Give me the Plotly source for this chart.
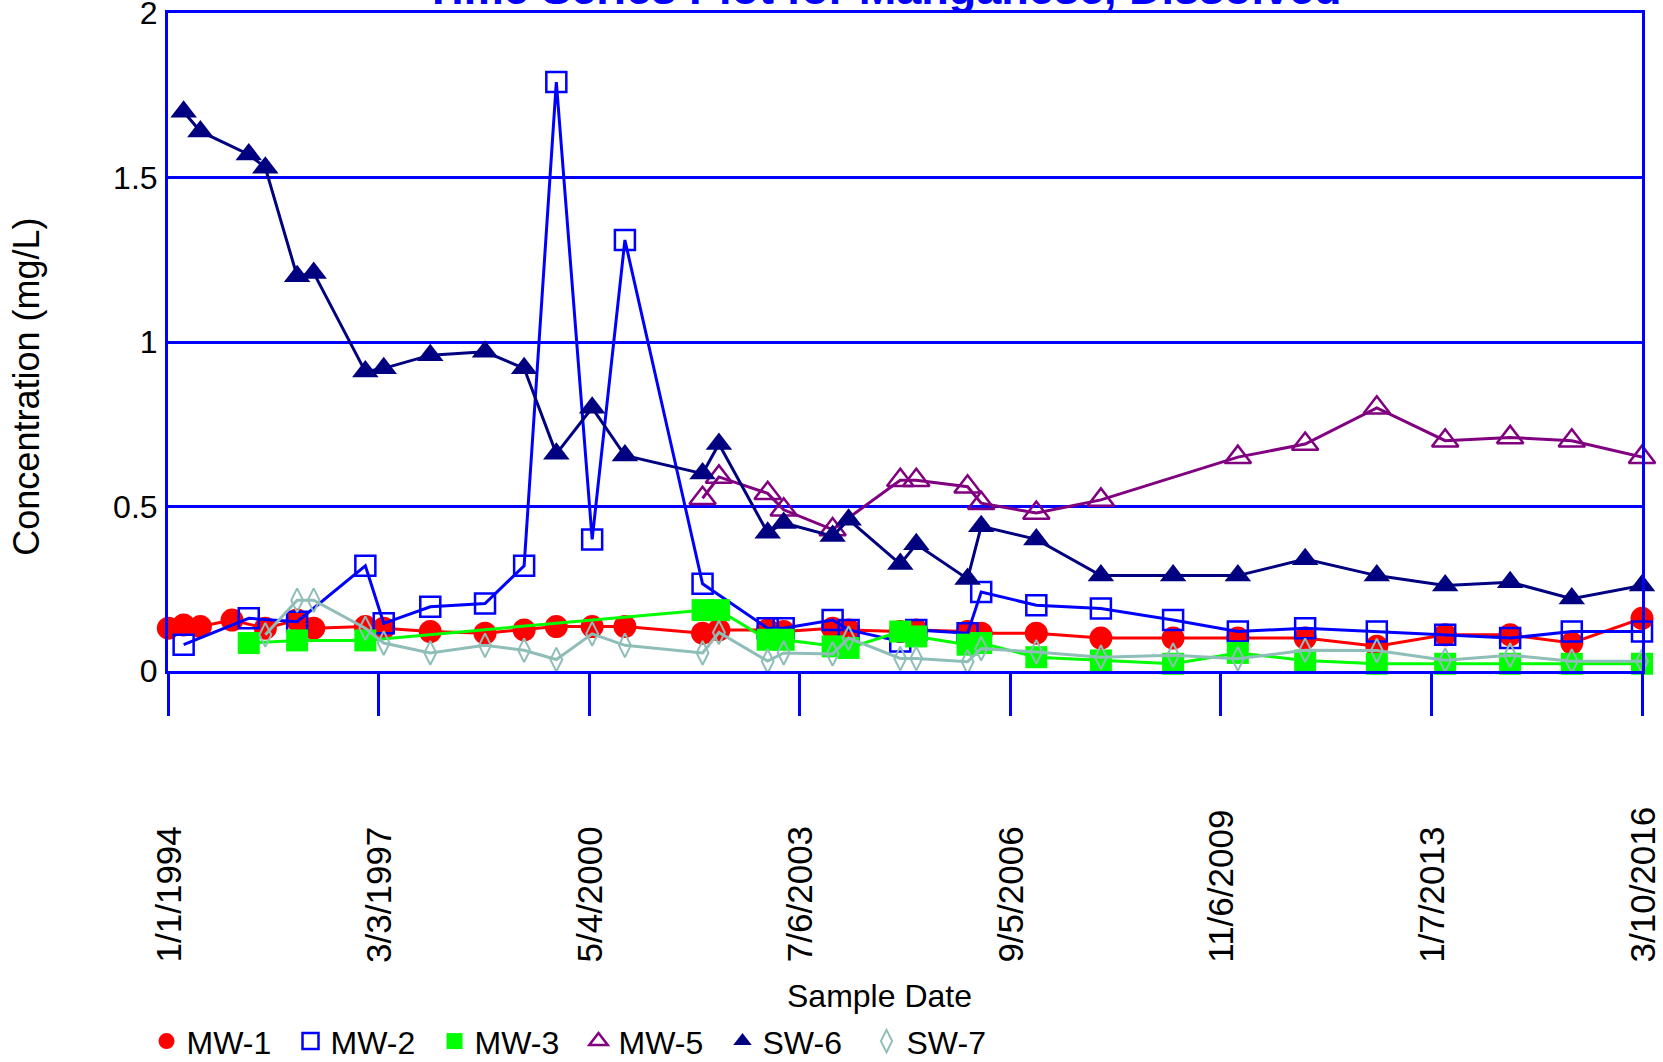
import plotly.graph_objects as go

# ---------------- data ----------------
MW1_DATES = ["1994-01-03", "1994-03-28", "1994-06-28", "1994-12-19", "1995-06-20", "1995-12-12",
             "1996-03-12", "1996-12-21", "1997-04-01", "1997-12-13", "1998-10-10", "1999-05-13",
             "1999-11-06", "2000-05-21", "2000-11-17", "2002-01-18", "2002-04-18", "2003-01-11",
             "2003-04-09", "2004-01-03", "2004-03-31", "2005-01-09", "2005-04-07", "2006-01-14",
             "2006-03-30", "2007-01-27", "2008-01-17", "2009-02-17", "2010-02-08", "2011-02-13",
             "2012-03-13", "2013-03-24", "2014-03-16", "2015-02-18", "2016-03-10"]
MW1_VALUES = [0.13, 0.14, 0.135, 0.155, 0.13, 0.155, 0.13, 0.135, 0.13, 0.12, 0.115, 0.125,
              0.135, 0.135, 0.135, 0.115, 0.125, 0.125, 0.12, 0.13, 0.125, 0.12, 0.125, 0.12,
              0.115, 0.115, 0.10, 0.10, 0.10, 0.10, 0.075, 0.11, 0.11, 0.085, 0.16]

MW2_DATES = ["1994-03-28", "1995-03-21", "1995-12-12", "1996-12-21", "1997-04-01", "1997-12-13",
             "1998-10-10", "1999-05-13", "1999-11-06", "2000-05-21", "2000-11-17", "2002-01-18",
             "2003-01-11", "2003-04-09", "2004-01-03", "2004-03-31", "2005-01-09", "2005-04-07",
             "2006-01-14", "2006-03-30", "2007-01-27", "2008-01-17", "2009-02-17", "2010-02-08",
             "2011-02-13", "2012-03-13", "2013-03-24", "2014-03-16", "2015-02-18", "2016-03-10"]
MW2_VALUES = [0.08, 0.16, 0.15, 0.32, 0.145, 0.195, 0.205, 0.32, 1.79, 0.40, 1.31, 0.265,
              0.13, 0.13, 0.155, 0.125, 0.09, 0.125, 0.115, 0.24, 0.20, 0.19, 0.155, 0.12,
              0.13, 0.12, 0.11, 0.10, 0.12, 0.12]

MW3_DATES = ["1995-03-21", "1995-12-12", "1996-12-21", "2002-01-18", "2002-04-18", "2003-01-11",
             "2003-04-09", "2004-01-03", "2004-03-31", "2005-01-09", "2005-04-07", "2006-01-14",
             "2006-03-30", "2007-01-27", "2008-01-17", "2009-02-17", "2010-02-08", "2011-02-13",
             "2012-03-13", "2013-03-24", "2014-03-16", "2015-02-18", "2016-03-10"]
MW3_VALUES = [0.085, 0.093, 0.093, 0.185, 0.185, 0.095, 0.095, 0.075, 0.07, 0.12, 0.105, 0.08,
              0.085, 0.042, 0.032, 0.022, 0.055, 0.032, 0.022, 0.022, 0.022, 0.022, 0.022]

MW5_DATES = ["2002-01-18", "2002-04-18", "2003-01-11", "2003-04-09", "2004-01-03", "2005-01-09",
             "2005-04-07", "2006-01-14", "2006-03-30", "2007-01-27", "2008-01-17", "2010-02-08",
             "2011-02-13", "2012-03-13", "2013-03-24", "2014-03-16", "2015-02-18", "2016-03-10"]
MW5_VALUES = [0.525, 0.59, 0.54, 0.49, 0.43, 0.58, 0.58, 0.56, 0.51, 0.48, 0.52, 0.65,
              0.69, 0.80, 0.70, 0.71, 0.70, 0.65]

SW6_DATES = ["1994-03-28", "1994-06-28", "1995-03-21", "1995-06-20", "1995-12-12", "1996-03-12",
             "1996-12-21", "1997-04-01", "1997-12-13", "1998-10-10", "1999-05-13", "1999-11-06",
             "2000-05-21", "2000-11-17", "2002-01-18", "2002-04-18", "2003-01-11", "2003-04-09",
             "2004-01-03", "2004-03-31", "2005-01-09", "2005-04-07", "2006-01-14", "2006-03-30",
             "2007-01-27", "2008-01-17", "2009-02-17", "2010-02-08", "2011-02-13", "2012-03-13",
             "2013-03-24", "2014-03-16", "2015-02-18", "2016-03-10"]
SW6_VALUES = [1.70, 1.64, 1.57, 1.53, 1.20, 1.21, 0.91, 0.92, 0.96, 0.97, 0.92, 0.66,
              0.80, 0.655, 0.60, 0.69, 0.42, 0.45, 0.41, 0.46, 0.325, 0.385, 0.28, 0.44,
              0.40, 0.29, 0.29, 0.29, 0.34, 0.29, 0.26, 0.27, 0.22, 0.26]

SW7_DATES = ["1995-06-20", "1995-12-12", "1996-03-12", "1996-12-21", "1997-04-01", "1997-12-13",
             "1998-10-10", "1999-05-13", "1999-11-06", "2000-05-21", "2000-11-17", "2002-01-18",
             "2002-04-18", "2003-01-11", "2003-04-09", "2004-01-03", "2004-03-31", "2005-01-09",
             "2005-04-07", "2006-01-14", "2006-03-30", "2007-01-27", "2008-01-17", "2009-02-17",
             "2010-02-08", "2011-02-13", "2012-03-13", "2013-03-24", "2014-03-16", "2015-02-18",
             "2016-03-10"]
SW7_VALUES = [0.11, 0.215, 0.215, 0.13, 0.085, 0.055, 0.078, 0.063, 0.035, 0.113, 0.078, 0.055,
              0.117, 0.03, 0.055, 0.052, 0.10, 0.038, 0.038, 0.028, 0.068, 0.058, 0.042, 0.048,
              0.037, 0.063, 0.062, 0.033, 0.048, 0.03, 0.03]

X_RANGE = ["1994-01-01", "2016-03-10"]
X_TICKS = ["1994-01-01", "1997-03-03", "2000-05-04", "2003-07-06", "2006-09-05",
           "2009-11-06", "2013-01-07", "2016-03-10"]
X_TICK_LABELS = ["1/1/1994", "3/3/1997", "5/4/2000", "7/6/2003", "9/5/2006",
                 "11/6/2009", "1/7/2013", "3/10/2016"]
Y_TICKS = [0, 0.5, 1, 1.5, 2]
Y_TICK_LABELS = ["0", "0.5", "1", "1.5", "2"]

TITLE = "Time Series Plot for Manganese, Dissolved"
X_TITLE = "Sample Date"
Y_TITLE = "Concentration (mg/L)"

# ---------------- styles ----------------
FONT = "Liberation Sans, Arial, sans-serif"
BLUE = "#0000FF"

series = [
    ("MW-1", MW1_DATES, MW1_VALUES, "#FF0000", "circle", 23, 0),
    ("MW-2", MW2_DATES, MW2_VALUES, "#0000FF", "square-open", 20, 2.5),
    ("MW-3", MW3_DATES, MW3_VALUES, "#00FF00", "square", 22, 0),
    ("MW-5", MW5_DATES, MW5_VALUES, "#800080", "triangle-up-open", 23, 2.5),
    ("SW-6", SW6_DATES, SW6_VALUES, "#000080", "triangle-up", 23, 0),
    ("SW-7", SW7_DATES, SW7_VALUES, "#8FBDB8", "diamond-tall-open", 17, 2),
]

fig = go.Figure()
for name, xs, ys, color, symbol, size, mlw in series:
    fig.add_trace(go.Scatter(
        x=xs, y=ys, mode="lines+markers", name=name, showlegend=False,
        line=dict(color=color, width=3),
        marker=dict(color=color, symbol=symbol, size=size,
                    line=dict(color=color, width=mlw)),
        cliponaxis=False,
    ))
# legend entries (markers only)
for name, xs, ys, color, symbol, size, mlw in series:
    fig.add_trace(go.Scatter(
        x=[None], y=[None], mode="markers", name=name, showlegend=True,
        marker=dict(color=color, symbol=symbol, size=size,
                    line=dict(color=color, width=mlw)),
    ))

annotations = []
for tv, tl in zip(X_TICKS, X_TICK_LABELS):
    annotations.append(dict(
        x=tv, xref="x", y=-0.446, yref="paper", text=tl, showarrow=False,
        textangle=-90, xanchor="center", yanchor="bottom",
        font=dict(family=FONT, size=35, color="black"),
    ))
annotations.append(dict(
    x=0.483, xref="paper", y=-0.494, yref="paper", text=X_TITLE, showarrow=False,
    xanchor="center", yanchor="middle", font=dict(family=FONT, size=32, color="black"),
))
annotations.append(dict(
    x=-0.0957, xref="paper", y=0.432, yref="paper", text=Y_TITLE, showarrow=False,
    textangle=-90, xanchor="center", yanchor="middle",
    font=dict(family=FONT, size=36, color="black"),
))

fig.update_layout(
    width=1663, height=1062,
    margin=dict(l=168, r=21, t=13, b=391, pad=0, autoexpand=False),
    paper_bgcolor="white", plot_bgcolor="white",
    title=dict(text="<b>" + TITLE + "</b>", x=0.531, xanchor="center",
               yref="container", y=0.996, yanchor="bottom",
               font=dict(family=FONT, size=45, color=BLUE)),
    showlegend=True,
    legend=dict(orientation="h", xref="container", x=0.0881, xanchor="left",
                yref="container", y=0.0195, yanchor="middle",
                font=dict(family=FONT, size=32, color="black"),
                itemwidth=30, entrywidth=99, bgcolor="rgba(0,0,0,0)",
                tracegroupgap=0),
    annotations=annotations,
)
fig.update_xaxes(
    type="date", range=X_RANGE, tickvals=X_TICKS, showticklabels=False,
    ticks="outside", ticklen=42, tickwidth=3, tickcolor=BLUE,
    showline=True, linecolor=BLUE, linewidth=3, mirror=True,
    showgrid=False, zeroline=False,
)
fig.update_yaxes(
    range=[0, 2], tickvals=Y_TICKS, ticktext=Y_TICK_LABELS, ticks="",
    ticklabelstandoff=1, ticklabeloverflow="allow",
    tickfont=dict(family=FONT, size=32, color="black"),
    showline=True, linecolor=BLUE, linewidth=3, mirror=True,
    showgrid=True, gridcolor=BLUE, gridwidth=3, zeroline=False,
)

fig.write_html("out.html")
